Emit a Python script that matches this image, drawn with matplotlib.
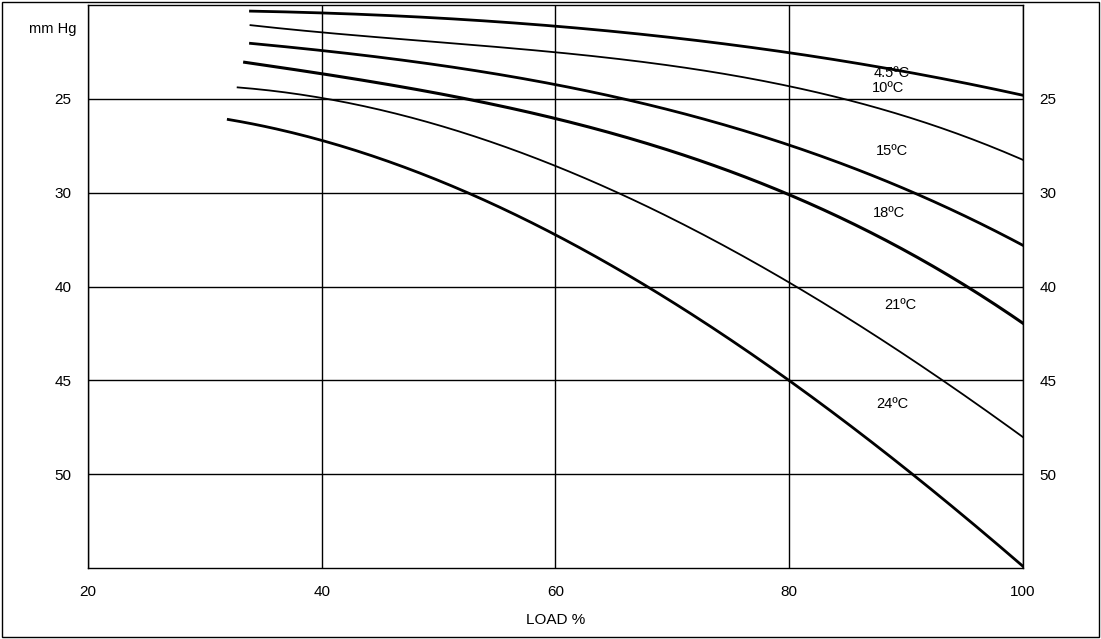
import matplotlib
matplotlib.use("Agg")
import matplotlib.pyplot as plt
import numpy as np

# y values are in grid-row units (0 = top, 6 = bottom); labels below
ytick_pos = [1, 2, 3, 4, 5]
ytick_labels = ["25", "30", "40", "45", "50"]
xticks = [20, 40, 60, 80, 100]

names = ["4.5ºC", "10ºC", "15ºC", "18ºC", "21ºC", "24ºC"]
xs = [
    [33.9, 40, 60, 80, 100],
    [33.9, 40, 60, 80, 100],
    [33.9, 40, 60, 80, 100],
    [33.4, 40, 60, 80, 100],
    [32.8, 40, 60, 80, 100],
    [32.0, 40, 60, 80, 100],
]
ys = [
    [0.06, 0.09, 0.22, 0.51, 0.96],
    [0.22, 0.28, 0.51, 0.86, 1.65],
    [0.41, 0.48, 0.85, 1.49, 2.56],
    [0.61, 0.73, 1.21, 2.02, 3.39],
    [0.86, 1.02, 1.69, 2.97, 4.60],
    [1.22, 1.44, 2.45, 4.00, 5.98],
]
lws = [2.0, 1.3, 2.0, 2.2, 1.3, 2.0]
label_pos = [(88.8, 0.72), (88.5, 0.88), (88.8, 1.56), (88.5, 2.22), (89.5, 3.2), (88.8, 4.25)]

fig = plt.figure(figsize=(11.01, 6.39), dpi=100)
fig.patches.append(plt.Rectangle((0.002, 0.003), 0.996, 0.994, transform=fig.transFigure,
                                 fill=False, edgecolor="black", linewidth=1))
ax = fig.add_axes([0.08, 0.111, 0.849, 0.881])
ax.set_xlim(20, 100)
ax.set_ylim(6, 0)
for x, y, lw in zip(xs, ys, lws):
    xx = np.linspace(x[0], x[-1], 200)
    c = np.polyfit(x, y, 3)
    ax.plot(xx, np.polyval(c, xx), color="black", lw=lw)
for n, (lx, ly) in zip(names, label_pos):
    ax.text(lx, ly, n, ha="center", va="center", fontsize=10.5, family="Liberation Sans")
ax.set_xticks(xticks)
ax.set_yticks(ytick_pos)
ax.set_yticklabels(ytick_labels)
ax.tick_params(length=0, labelsize=11, pad=12, labelright=True)
for t in ax.get_xticklabels() + ax.get_yticklabels():
    t.set_family("Liberation Sans")
ax.grid(True, color="black", lw=1)
for s in ax.spines.values():
    s.set_linewidth(1)
ax.set_xlabel("LOAD %", fontsize=11, family="Liberation Sans", labelpad=10)
fig.text(0.048, 0.955, "mm Hg", fontsize=10.5, ha="center", va="center", family="Liberation Sans")
fig.savefig("out.png", dpi=100)
